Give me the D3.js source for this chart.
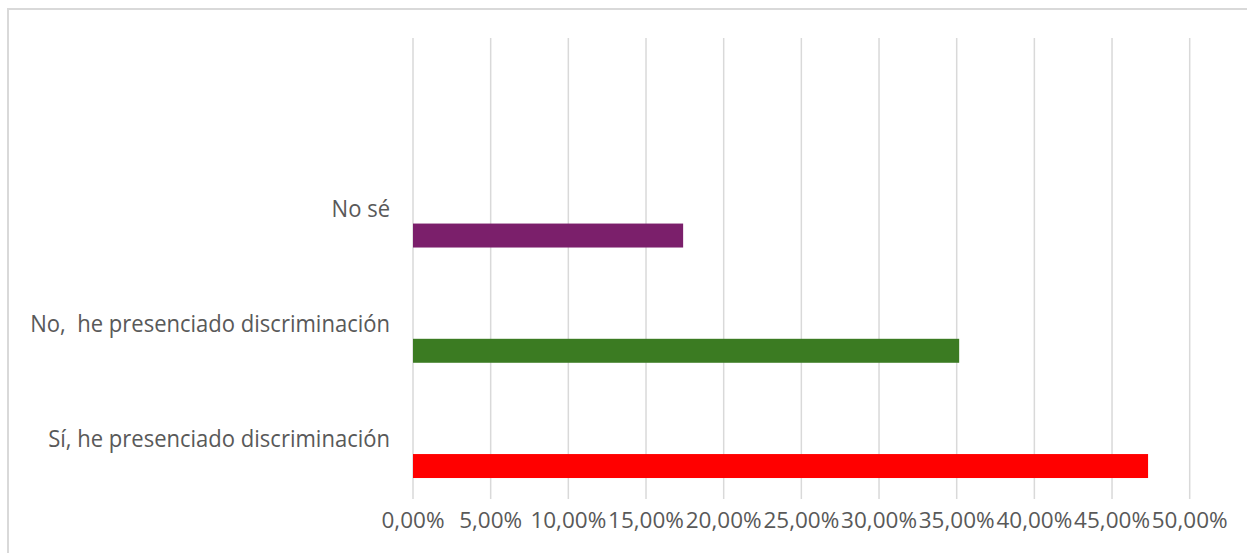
<!DOCTYPE html>
<html>
<head>
<meta charset="utf-8">
<script src="https://cdn.jsdelivr.net/npm/d3@7"></script>
<style>
  body { margin: 0; background: #fff; }
  text { font-family: "Open Sans", sans-serif; fill: #595959; white-space: pre; }
</style>
</head>
<body>
<div id="chart-area"></div>
<script>
// data (top slot is an empty category)
var categories = ["", "No sé", "No,  he presenciado discriminación", "Sí, he presenciado discriminación"];
var values = [null, 0.1739, 0.3516, 0.4732];
var colors = [null, "#7b1f6b", "#3b7b22", "#ff0000"];
var ticks = [0, 0.05, 0.10, 0.15, 0.20, 0.25, 0.30, 0.35, 0.40, 0.45, 0.50];

var W = 1247, H = 553;
var margin = { top: 38, left: 413 };
var width = 1189.7 - margin.left;
var height = 499 - margin.top;

var svg = d3.select("#chart-area")
    .append("svg")
    .attr("width", W)
    .attr("height", H);

// outer frame
svg.append("rect")
    .attr("x", 8).attr("y", 9)
    .attr("width", W + 10).attr("height", H + 10)
    .attr("fill", "none")
    .attr("stroke", "#d9d9d9")
    .attr("stroke-width", 2);

var g = svg.append("g")
    .attr("transform", "translate(" + margin.left + "," + margin.top + ")");

var x = d3.scaleLinear().domain([0, 0.5]).range([0, width]);
var y = d3.scaleBand().domain(categories).range([0, height]);

// gridlines
g.selectAll(".grid")
    .data(ticks)
    .enter().append("line")
    .attr("x1", d => x(d)).attr("x2", d => x(d))
    .attr("y1", 0).attr("y2", height)
    .attr("stroke", "#d9d9d9")
    .attr("stroke-width", 1.5);

// bars
var rows = categories.map((c, i) => ({ cat: c, value: values[i], color: colors[i] }))
    .filter(d => d.value != null);

g.selectAll(".bar")
    .data(rows)
    .enter().append("rect")
    .attr("x", x(0))
    .attr("y", d => y(d.cat) + y.bandwidth() * 0.61)
    .attr("width", d => x(d.value) - x(0))
    .attr("height", y.bandwidth() * 0.208)
    .attr("fill", d => d.color);

// category labels, squeezed horizontally like the source
var labels = g.selectAll(".cat")
    .data(rows)
    .enter().append("text")
    .attr("font-size", 23.5)
    .attr("text-anchor", "end")
    .text(d => d.cat);

var longest = d3.max(labels.nodes(), n => n.getComputedTextLength());
var sx = 360 / longest;
labels.attr("transform", d => "translate(-23," + (y(d.cat) + y.bandwidth() / 2 + 6) + ") scale(" + sx + ",1)");

// tick labels
var fmt = d => d3.format(".2f")(d * 100).replace(".", ",") + "%";
var tl = g.selectAll(".tick-label")
    .data(ticks)
    .enter().append("text")
    .attr("font-size", 22)
    .attr("text-anchor", "middle")
    .text(fmt);

var tw = d3.max(tl.nodes(), n => n.getComputedTextLength());
var tsx = 76 / tw;
tl.attr("transform", d => "translate(" + x(d) + "," + (528 - margin.top) + ") scale(" + tsx + ",1)");
</script>
</body>
</html>
